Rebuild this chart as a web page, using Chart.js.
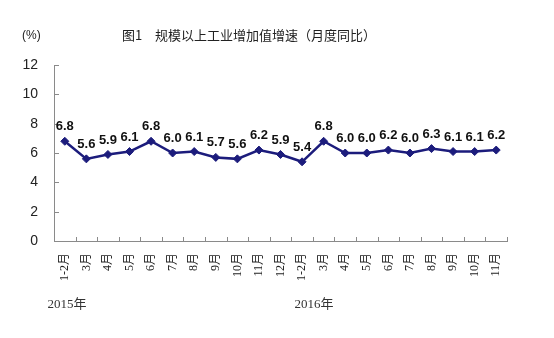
<!DOCTYPE html>
<html>
<head>
<meta charset="utf-8">
<script src="https://cdn.jsdelivr.net/npm/chart.js@4/dist/chart.umd.min.js"></script>
<style>
  html, body { margin: 0; padding: 0; background: #fff; }
  #wrap { width: 554px; height: 338px; position: relative; }
</style>
</head>
<body>
<div id="wrap"><canvas id="c" width="554" height="338"></canvas></div>
<script>
// Months shown on the category axis (Jan–Feb are reported together)
const months = ['1-2月','3月','4月','5月','6月','7月','8月','9月','10月','11月','12月',
                '1-2月','3月','4月','5月','6月','7月','8月','9月','10月','11月'];
// Year-on-year growth of industrial value added above designated size, %
const growth = [6.8, 5.6, 5.9, 6.1, 6.8, 6.0, 6.1, 5.7, 5.6, 6.2, 5.9,
                5.4, 6.8, 6.0, 6.0, 6.2, 6.0, 6.3, 6.1, 6.1, 6.2];
const yTicks = [0, 2, 4, 6, 8, 10, 12];
const years = [{ text: '2015年', x: 67 }, { text: '2016年', x: 314 }];
const titleLead = '图1';
const titleMain = '规模以上工业增加值增速（月度同比）';
const unitLabel = '(%)';

const LINE = '#1c1c7c';
const AXIS = '#8a8a8a';
const SERIF = "'Liberation Serif', 'DejaVu Serif', 'Noto Sans CJK SC', serif";
const SANS = "'Liberation Sans', Arial, sans-serif";
const CJK = "'Noto Sans CJK SC', sans-serif";

const decorations = {
  id: 'decorations',
  afterDraw(chart) {
    const ctx = chart.ctx;
    const x = chart.scales.x, y = chart.scales.y;
    const area = chart.chartArea;
    ctx.save();

    // inward tick marks
    ctx.strokeStyle = AXIS;
    ctx.lineWidth = 1;
    ctx.beginPath();
    yTicks.forEach(v => {
      const py = Math.round(y.getPixelForValue(v)) + 0.5;
      ctx.moveTo(area.left, py);
      ctx.lineTo(area.left + 5, py);
    });
    for (let i = 0; i <= months.length; i++) {
      const px = Math.round(x.getPixelForValue(i - 0.5)) + 0.5;
      ctx.moveTo(px, area.bottom);
      ctx.lineTo(px, area.bottom - 4);
    }
    ctx.stroke();

    // value labels above each point
    const meta = chart.getDatasetMeta(0);
    ctx.fillStyle = '#111';
    ctx.font = 'bold 13px ' + SANS;
    ctx.textAlign = 'center';
    ctx.textBaseline = 'bottom';
    meta.data.forEach((pt, i) => {
      ctx.fillText(growth[i].toFixed(1), pt.x, pt.y - 8);
    });

    // title and unit
    ctx.fillStyle = '#222';
    ctx.textAlign = 'left';
    ctx.textBaseline = 'middle';
    ctx.font = '12px ' + SANS;
    ctx.fillText(unitLabel, 22, 36);
    ctx.font = '13px ' + CJK;
    ctx.fillText(titleLead, 122, 35);
    ctx.fillText(titleMain, 155, 35);

    // year captions under the month labels
    ctx.font = '13px ' + SERIF;
    ctx.fillStyle = '#333';
    ctx.textAlign = 'center';
    years.forEach(yr => ctx.fillText(yr.text, yr.x, 305));

    ctx.restore();
  }
};

new Chart(document.getElementById('c'), {
  type: 'line',
  data: {
    labels: months,
    datasets: [{
      data: growth,
      borderColor: LINE,
      backgroundColor: LINE,
      borderWidth: 2.5,
      pointStyle: 'rectRot',
      pointRadius: 4,
      pointBorderWidth: 1,
      tension: 0
    }]
  },
  options: {
    responsive: false,
    animation: false,
    events: [],
    layout: { padding: { top: 65, right: 47, left: 0, bottom: 0 } },
    plugins: { legend: { display: false }, tooltip: { enabled: false }, title: { display: false } },
    scales: {
      x: {
        offset: true,
        grid: { display: true, drawOnChartArea: false, drawTicks: false, offset: true },
        border: { display: true, color: AXIS, width: 1 },
        ticks: {
          autoSkip: false, minRotation: 90, maxRotation: 90, padding: 12,
          color: '#222', font: { family: SERIF, size: 12 }
        },
        afterFit(scale) { scale.height = 97; }
      },
      y: {
        min: 0, max: 12,
        afterBuildTicks(scale) { scale.ticks = yTicks.map(v => ({ value: v })); },
        grid: { display: true, drawOnChartArea: false, drawTicks: false },
        border: { display: true, color: AXIS, width: 1 },
        ticks: { padding: 16, color: '#222', font: { family: SANS, size: 14 } },
        afterFit(scale) { scale.width = 54; }
      }
    }
  },
  plugins: [decorations]
});
</script>
</body>
</html>
